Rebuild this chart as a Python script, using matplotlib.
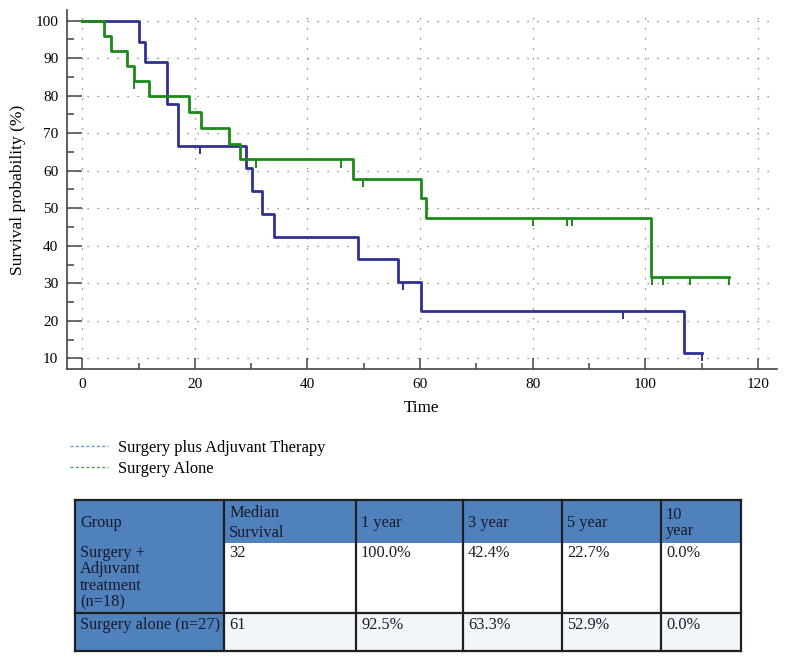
import matplotlib
matplotlib.use('Agg')
import matplotlib.pyplot as plt
from matplotlib.lines import Line2D
from matplotlib.patches import Rectangle
from matplotlib.ticker import MultipleLocator

plt.rcParams['font.family'] = ['Liberation Serif', 'DejaVu Serif']

# Kaplan-Meier steps
adj_times = [0, 10, 11.2, 15.1, 17, 29.1, 30.2, 32, 34, 48.9, 56.1, 60.1, 106.9]
adj_surv = [100, 94.4, 88.9, 77.8, 66.7, 60.6, 54.5, 48.5, 42.4, 36.4, 30.3, 22.7, 11.4]
adj_end = 110
adj_censor = [20.9, 57, 96, 110]

alone_times = [0, 3.9, 5.1, 7.9, 9.1, 11.9, 19, 21.1, 26.1, 28.1, 48, 60.1, 61.1, 101]
alone_surv = [100, 96.0, 92.0, 88.0, 84.0, 80.0, 75.6, 71.4, 67.2, 63.0, 57.8, 52.7, 47.5, 31.7]
alone_end = 114.9
alone_censor = [9.1, 30.9, 45.9, 49.9, 80.1, 86.1, 87, 101.2, 103.2, 108, 114.9]

legend_labels = ['Surgery plus Adjuvant Therapy', 'Surgery Alone']

table_header = ['Group', 'Median\nSurvival', '1 year', '3 year', '5 year', '10\nyear']
table_rows = [
    ['Surgery +\nAdjuvant\ntreatment\n(n=18)', '32', '100.0%', '42.4%', '22.7%', '0.0%'],
    ['Surgery alone (n=27)', '61', '92.5%', '63.3%', '52.9%', '0.0%'],
]

BLUE = '#2e3192'
GREEN = '#1b8a1b'
AXC = '#444444'
W, H = 785, 662

fig = plt.figure(figsize=(W / 100, H / 100), dpi=100)
ax = fig.add_axes([66.7 / W, 1 - 369.3 / H, (777 - 66.7) / W, (369.3 - 10) / H])


def km_step(t, s, end):
    return list(t) + [end], list(s) + [s[-1]]


def surv_at(t, s, x):
    v = s[0]
    for ti, si in zip(t, s):
        if ti <= x:
            v = si
    return v


for t, s, end, cens, col in [(adj_times, adj_surv, adj_end, adj_censor, BLUE),
                             (alone_times, alone_surv, alone_end, alone_censor, GREEN)]:
    xs, ys = km_step(t, s, end)
    ax.step(xs, ys, where='post', color=col, lw=2, zorder=3)
    for c in cens:
        v = surv_at(t, s, c)
        ax.vlines(c, v - 2.2, v, color=col, lw=1.4, zorder=3)

ax.set_xlim(-2.77, 123.4)
ax.set_ylim(7.07, 102.85)
ax.xaxis.set_major_locator(MultipleLocator(20))
ax.xaxis.set_minor_locator(MultipleLocator(10))
ax.set_yticks(range(10, 101, 10))
ax.yaxis.set_minor_locator(MultipleLocator(5))

ax.grid(True, which='major', axis='x', color='#777777', lw=0.9, linestyle=(0, (1, 7)))
ax.grid(True, which='major', axis='y', color='#777777', lw=0.9, linestyle=(0, (1, 7)))

for sp in ['top', 'right']:
    ax.spines[sp].set_visible(False)
for sp in ['left', 'bottom']:
    ax.spines[sp].set_color(AXC)
    ax.spines[sp].set_linewidth(1.2)

ax.tick_params(axis='x', which='major', direction='in', length=8, width=1.1, color=AXC,
               labelsize=11, pad=6)
ax.tick_params(axis='x', which='minor', direction='in', length=4.3, width=1.1, color=AXC)
ax.tick_params(axis='y', which='major', direction='in', length=10.8, width=1.1, color=AXC,
               labelsize=11, pad=6)
ax.tick_params(axis='y', which='minor', direction='in', length=5, width=1.1, color=AXC)

ax.set_xlabel('Time', fontsize=12.3, labelpad=7)
ax.set_ylabel('Survival probability (%)', fontsize=12.5, labelpad=7)

# legend under the plot
handles = [Line2D([], [], color='#5b9bd5', lw=1, linestyle=(0, (2.2, 1.6))),
           Line2D([], [], color='#5aa05a', lw=1, linestyle=(0, (2.2, 1.6)))]
fig.legend(handles, legend_labels, loc='upper left', bbox_to_anchor=(58 / W, 1 - 428 / H),
           frameon=False, fontsize=11.9, handlelength=2.35, handletextpad=0.6,
           labelspacing=0.3, borderpad=0.2)

# table
tax = fig.add_axes([0, 0, 1, 1])
tax.set_xlim(0, W)
tax.set_ylim(H, 0)
tax.axis('off')

col_edges = [75, 224, 356, 463, 562, 661, 741]
row_edges = [500, 543, 613, 651]
HEAD = '#4f81bd'
LIGHT = '#f2f6fa'
EDGE = '#1f1f1f'

fills = [[HEAD] * 6, [HEAD] + ['white'] * 5, [HEAD] + [LIGHT] * 5]
for r in range(3):
    for c in range(6):
        tax.add_patch(Rectangle((col_edges[c], row_edges[r]), col_edges[c + 1] - col_edges[c],
                                row_edges[r + 1] - row_edges[r], facecolor=fills[r][c],
                                edgecolor='none'))

lw_t = 1.6
tax.plot([col_edges[0], col_edges[-1]], [row_edges[0]] * 2, color=EDGE, lw=lw_t)
tax.plot([col_edges[0], col_edges[-1]], [row_edges[2]] * 2, color=EDGE, lw=lw_t)
tax.plot([col_edges[0], col_edges[-1]], [row_edges[3]] * 2, color=EDGE, lw=lw_t)
for x in col_edges:
    tax.plot([x, x], [row_edges[0], row_edges[3]], color=EDGE, lw=lw_t)

TFS = 11.8
for c, txt in enumerate(table_header):
    ls = 1.35 if c == 1 else 1.05
    tax.text(col_edges[c] + 5, (row_edges[0] + row_edges[1]) / 2 + 1.5, txt, fontsize=TFS,
             va='center', ha='left', color='#1a1a2a', linespacing=ls)
for c, txt in enumerate(table_rows[0]):
    tax.text(col_edges[c] + 5, row_edges[1] + 2, txt, fontsize=TFS, va='top', ha='left',
             color='#1a1a2a', linespacing=1.03)
for c, txt in enumerate(table_rows[1]):
    tax.text(col_edges[c] + 5, row_edges[2] + 4, txt, fontsize=TFS, va='top', ha='left',
             color='#1a1a2a')

fig.savefig('out.png', dpi=100)
